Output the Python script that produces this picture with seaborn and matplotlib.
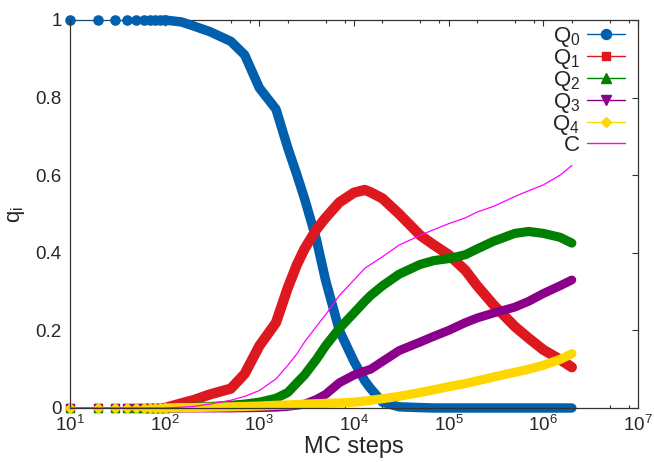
import matplotlib
matplotlib.use("Agg")
import matplotlib.pyplot as plt
import seaborn as sns
import numpy as np
from matplotlib.lines import Line2D
from matplotlib.ticker import LogLocator, FixedLocator, FuncFormatter, NullFormatter

# Monte Carlo steps at which the order parameters are shown
steps = [10, 20, 30, 40, 50, 60, 70, 80, 90, 100,
         150, 200, 300, 500, 700,
         1e3, 1.5e3, 2e3, 2.5e3, 3e3, 4e3, 5e3, 7e3,
         1e4, 1.3e4, 1.5e4, 2e4, 3e4, 5e4, 7e4,
         1e5, 1.5e5, 2e5, 3e5, 5e5, 7e5,
         1e6, 1.5e6, 2e6]

q0 = [1, 1, 1, 1, 1, 1, 1, 1, 1, 1,
      0.995, 0.985, 0.97, 0.945, 0.91,
      0.825, 0.77, 0.67, 0.6, 0.54, 0.435, 0.33, 0.2,
      0.12, 0.07, 0.05, 0.015, 0.003, 0.001, 0,
      0, 0, 0, 0, 0, 0,
      0, 0, 0]
q1 = [0, 0, 0, 0, 0, 0, 0, 0, 0, 0,
      0.012, 0.02, 0.035, 0.05, 0.088,
      0.16, 0.22, 0.31, 0.37, 0.41, 0.46, 0.49, 0.53,
      0.555, 0.562, 0.556, 0.54, 0.50, 0.445, 0.42,
      0.395, 0.355, 0.315, 0.265, 0.21, 0.18,
      0.15, 0.125, 0.105]
q2 = [0, 0, 0, 0, 0, 0, 0, 0, 0, 0,
      0.001, 0.002, 0.004, 0.007, 0.01,
      0.015, 0.025, 0.04, 0.065, 0.085, 0.125, 0.16, 0.205,
      0.245, 0.275, 0.29, 0.315, 0.345, 0.37, 0.38,
      0.385, 0.395, 0.41, 0.43, 0.45, 0.455,
      0.45, 0.44, 0.425]
q3 = [0, 0, 0, 0, 0, 0, 0, 0, 0, 0,
      0, 0, 0, 0, 0.0005,
      0.001, 0.002, 0.004, 0.007, 0.01, 0.022, 0.035, 0.065,
      0.085, 0.095, 0.1, 0.12, 0.148, 0.17, 0.185,
      0.2, 0.22, 0.232, 0.245, 0.26, 0.275,
      0.295, 0.315, 0.33]
q4 = [0, 0, 0, 0, 0, 0, 0, 0, 0, 0,
      0.001, 0.001, 0.002, 0.003, 0.004,
      0.005, 0.007, 0.008, 0.009, 0.01, 0.011, 0.012, 0.013,
      0.015, 0.018, 0.02, 0.024, 0.03, 0.04, 0.047,
      0.055, 0.063, 0.07, 0.08, 0.092, 0.1,
      0.11, 0.125, 0.14]
c_vals = [0, 0, 0, 0, 0, 0, 0, 0, 0, 0,
          0.002, 0.004, 0.01, 0.02, 0.03,
          0.045, 0.075, 0.11, 0.14, 0.17, 0.21, 0.24, 0.29,
          0.33, 0.36, 0.37, 0.39, 0.42, 0.445, 0.46,
          0.475, 0.49, 0.505, 0.52, 0.545, 0.56,
          0.575, 0.6, 0.625]

y_ticks = [0, 0.2, 0.4, 0.6, 0.8, 1]

series = [
    (r"$\mathregular{Q_0}$", q0, "#0060ad", "o", 6.6, 6.8),
    (r"$\mathregular{Q_1}$", q1, "#dd181f", "s", 5.6, 7.4),
    (r"$\mathregular{Q_2}$", q2, "#008000", "^", 6.2, 6.6),
    (r"$\mathregular{Q_3}$", q3, "#8b008b", "v", 6.2, 6.4),
    (r"$\mathregular{Q_4}$", q4, "#ffd700", "D", 4.6, 6.6),
]
c_color = "#ff00ff"

sns.set_style("white")
plt.rcParams["font.family"] = ["Liberation Sans", "DejaVu Sans"]
plt.rcParams["mathtext.fontset"] = "custom"
plt.rcParams["mathtext.rm"] = "Liberation Sans"
plt.rcParams["mathtext.it"] = "Liberation Sans:italic"

fig = plt.figure(figsize=(6.54, 4.62), dpi=100)
ax = fig.add_axes([70 / 654, 1 - 408 / 462, 568 / 654, 388 / 462])

x = np.array(steps, dtype=float)
early = x <= 100
dense = x >= 100

handles = []
for i, (label, vals, color, mk, ms, band) in enumerate(series):
    y = np.array(vals, dtype=float)
    z = 2 + i * 0.1
    # thin connecting line
    sns.lineplot(x=x, y=y, ax=ax, color=color, lw=0.8, sort=False,
                 estimator=None, zorder=z)
    # isolated points at early times
    ax.plot(x[early], y[early], ls="none", marker=mk, ms=ms, color=color,
            mec=color, clip_on=False, zorder=z)
    # densely packed points merge into a thick band
    sns.lineplot(x=x[dense], y=y[dense], ax=ax, color=color, lw=band,
                 sort=False, estimator=None, zorder=z)
    band_line = ax.lines[-1]
    band_line.set_solid_capstyle("round")
    band_line.set_solid_joinstyle("round")
    band_line.set_clip_on(False)
    handles.append(Line2D([], [], color=color, lw=1, marker=mk,
                          ms=ms + 0.6, label=label))

sns.lineplot(x=x, y=np.array(c_vals), ax=ax, color=c_color, lw=0.9,
             sort=False, estimator=None, zorder=3)
handles.append(Line2D([], [], color=c_color, lw=1, label="C"))

ax.set_xscale("log")
ax.set_xlim(10, 1e7)
ax.set_ylim(0, 1)

ax.xaxis.set_major_locator(LogLocator(base=10, numticks=10))
ax.xaxis.set_minor_locator(LogLocator(base=10, subs=(2, 5, 8), numticks=20))
ax.xaxis.set_minor_formatter(NullFormatter())
ax.yaxis.set_major_locator(FixedLocator(y_ticks))
ax.yaxis.set_major_formatter(FuncFormatter(lambda v, p: f"{v:g}"))

ax.tick_params(axis="both", which="major", direction="in", length=4,
               width=0.8, color="#333333", top=True, right=True,
               labelsize=13.5, pad=4)
ax.tick_params(axis="y", which="major", pad=6)
ax.tick_params(axis="x", which="major", pad=5)
ax.tick_params(axis="x", which="minor", direction="in", length=2.2,
               width=0.8, color="#333333", top=True, bottom=True)

for name, sp in ax.spines.items():
    sp.set_color("#333333")
    sp.set_linewidth(0.9)
ax.spines["bottom"].set_zorder(6)
ax.spines["top"].set_zorder(1)

ax.set_xlabel("MC steps", fontsize=17, labelpad=1)
ax.set_ylabel(r"$\mathregular{q_i}$", fontsize=16, labelpad=6)

leg = ax.legend(handles=handles, loc="upper right",
                bbox_to_anchor=(625 / 654, 1 - 25 / 462),
                bbox_transform=fig.transFigure, frameon=False,
                markerfirst=False, fontsize=16, handlelength=1.7,
                handletextpad=0.32, labelspacing=-0.09, borderpad=0,
                borderaxespad=0)
for t in leg.get_texts():
    t.set_ha("right")

fig.savefig("out.png", dpi=100)
